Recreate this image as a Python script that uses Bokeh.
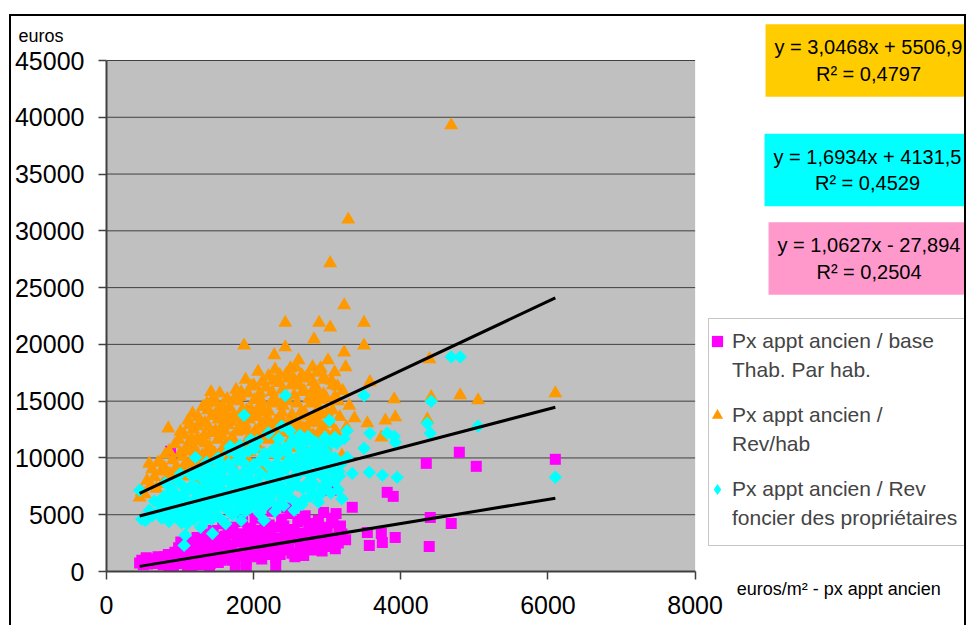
import math
from bokeh.plotting import figure
from bokeh.models import (Range1d, FixedTicker, Label, Legend, LegendItem, LinearAxis,
                          BoxAnnotation)
from bokeh.embed import file_html
from bokeh.resources import INLINE

# ---------------- data ----------------
x_ticks = [0, 2000, 4000, 6000, 8000]
y_ticks = [0, 5000, 10000, 15000, 20000, 25000, 30000, 35000, 40000, 45000]

series_names = ["Px appt ancien / base\nThab. Par hab.",
                "Px appt ancien /\nRev/hab",
                "Px appt ancien / Rev\nfoncier des propriétaires"]
x_title = "euros/m² - px appt ancien"
y_title = "euros"

# Px appt ancien / base Thab. par hab. (magenta squares)
mag_x = [450, 480, 520, 560, 600, 640, 680, 720, 750, 790, 820, 850, 880, 900, 930, 950, 980, 1000,
         1020, 1050, 1080, 1100, 1120, 1150, 1180, 1200, 1230, 1250, 1280, 1300, 1330, 1350, 1380,
         1400, 1420, 1450, 1480, 1500, 1520, 1550, 1580, 1600, 1620, 1650, 1680, 1700, 1720, 1750,
         1780, 1800, 1820, 1850, 1880, 1900, 1920, 1950, 1980, 2000, 2020, 2050, 2080, 2100, 2130,
         2150, 2180, 2200, 2230, 2250, 2280, 2300, 2330, 2350, 2380, 2400, 2430, 2450, 2480, 2500,
         2520, 2550, 2580, 2600, 2630, 2650, 2680, 2700, 2730, 2750, 2780, 2800, 2830, 2850, 2880,
         2900, 2930, 2950, 2980, 3000, 3030, 3050, 3080, 3100, 3120, 3150, 3180, 3200, 3250, 3340,
         3545, 3572, 3735, 3749, 3815, 3897, 3924, 4346, 4386, 4400, 4685, 4795, 5025, 6100, 870,
         500, 540, 620, 700, 770, 840, 910, 960, 1010, 1060, 1110, 1160, 1210, 1260, 1310, 1360,
         1410, 1460, 1510, 1560, 1610, 1660, 1710, 1760, 1810, 1860, 1910, 1960, 2010, 2060, 2110,
         2160, 2210, 2260, 2310, 2360, 2410, 2460, 2510, 2560, 2610, 2660, 2710, 2760, 2810, 2860,
         2910, 2960, 3010, 3060, 3110, 3160, 1400, 1900, 2300]
mag_y = [750, 1000, 900, 650, 700, 1100, 1000, 700, 800, 1300, 1100, 500, 600, 1300, 1700, 900, 2100, 1500,
         700, 1200, 1100, 400, 1800, 2600, 1300, 800, 3000, 2000, 1500, 600, 2400, 3300, 1100,
         1900, 2800, 3600, 1400, 2300, 800, 3000, 4200, 1700, 2600, 3400, 1200, 2100, 3900, 500,
         2800, 1600, 3300, 4400, 2200, 1000, 3700, 2600, 1800, 3100, 4700, 1300, 2400, 3600, 2000,
         4200, 2800, 1500, 3300, 5300, 2300, 1200, 3900, 2700, 4600, 1900, 3200, 5600, 2400, 5100,
         1600, 3700, 2900, 4400, 2100, 3400, 1400, 4900, 2600, 4230, 3100, 1900, 3800, 2400, 4500,
         3000, 1800, 5200, 2700, 3600, 2200, 7140, 4300, 3000, 5100, 2500, 4000, 3300, 2800, 5650,
         3440, 2290, 3350, 2560, 6970, 6615, 3000, 9525, 2200, 4760, 4230, 10500, 9260, 9880, 10600,
         600, 1200, 850, 1300, 600, 1500, 500, 1200, 2600, 800, 1400, 500, 2100, 900, 1800, 2200,
         700, 2600, 1600, 1000, 3100, 2300, 1000, 3300, 2600, 1400, 2900, 3800, 1500, 3300, 1100,
         2500, 4100, 1700, 2900, 1500, 4000, 2000, 3300, 1300, 3100, 4600, 2000, 3500, 2900, 4100,
         2200, 3900, 2900, 4700, 2000, 3700, 350, 400, 500]

# Px appt ancien / Rev/hab (orange triangles)
ora_x = [450, 480, 520, 580, 600, 650, 700, 730, 760, 800, 840, 860, 900, 930, 960, 1000, 1030, 1060,
         1110, 1120, 1150, 1180, 1200, 1230, 1260, 1280, 1300, 1330, 1350, 1380, 1400, 1420, 1440,
         1460, 1480, 1500, 1520, 1540, 1560, 1580, 1600, 1620, 1650, 1670, 1690, 1710, 1730, 1750,
         1770, 1790, 1830, 1850, 1870, 1880, 1900, 1920, 1940, 1960, 1980, 2000, 2020, 2050, 2070,
         2100, 2120, 2150, 2180, 2200, 2230, 2250, 2280, 2300, 2320, 2350, 2380, 2400, 2430, 2430,
         2450, 2470, 2500, 2520, 2550, 2570, 2600, 2620, 2650, 2680, 2700, 2720, 2750, 2780, 2800,
         2820, 2830, 2850, 2870, 2890, 2910, 2930, 2950, 2980, 3000, 3040, 3040, 3060, 3100, 3120,
         3150, 3200, 3230, 3230, 3250, 3286, 3300, 3370, 3500, 3500, 3545, 3580, 3735, 3790, 3910,
         3925, 4360, 4390, 4413, 4685, 4807, 5050, 6100,
         920, 980, 1040, 1090, 1140, 1170, 1210, 1240, 1270, 1310, 1340, 1370, 1390, 1430, 1470,
         1510, 1530, 1570, 1610, 1640, 1660, 1700, 1740, 1760, 1800, 1820, 1840, 1890, 1910, 1950,
         1990, 2010, 2040, 2060, 2090, 2110, 2140, 2170, 2190, 2210, 2240, 2270, 2290, 2310, 2340,
         2360, 2390, 2420, 2460, 2490, 2510, 2540, 2560, 2590, 2610, 2640, 2660, 2690, 2710, 2740,
         2760, 2790, 2810, 2840, 2860, 2880, 2920, 2940, 2970, 2990, 3010, 3070, 3090, 3140, 3170,
         3210, 3260,
         1005, 1065, 1125, 1185, 1245, 1305, 1365, 1425, 1485, 1545, 1605, 1665, 1725, 1785, 1845,
         1905, 1965, 2025, 2085, 2145, 2205, 2265, 2325, 2385, 2445, 2505, 2565, 2625, 2685, 2745,
         2805, 2865, 2925, 2985, 3045, 3105,
         1035, 1095, 1155, 1215, 1275, 1335, 1395, 1455, 1515, 1575, 1635, 1695, 1755, 1815, 1875,
         1935, 1995, 2055, 2115, 2175, 2235, 2295, 2355, 2415, 2475, 2535, 2595, 2655, 2715, 2775,
         2835, 2895, 2955, 3015, 3075,
         550, 620, 680, 740, 790, 850, 950]
ora_y = [6530, 7000, 6800, 9500, 7600, 8300, 9600, 9600, 7700, 10300, 12600, 8600, 9800, 11200, 7900, 10400, 9000, 12000,
         13300, 8400, 10800, 12500, 9400, 11700, 7800, 13100, 10200, 12000, 8900, 14200, 11000, 15800, 9700,
         14900, 12400, 8300, 13400, 15700, 10600, 11900, 14000, 9300, 12900, 14460, 10900, 11800, 13800, 8800,
         12300, 15000, 15800, 10300, 19900, 13000, 11400, 15700, 9600, 14300, 12000, 16400, 10800, 13600, 11700,
         15100, 9000, 14000, 12600, 17200, 10300, 15800, 19050, 13200, 11000, 16600, 12200, 14600, 21900, 19750,
         10200, 17000, 17900, 13800, 15500, 18000, 11400, 16400, 14100, 12600, 17000, 10500, 15200, 13300, 18000,
         20450, 11800, 16200, 14300, 21900, 17900, 12700, 15600, 10900, 14000, 27150, 21500, 16800, 17550, 12300,
         15000, 10200, 23450, 19300, 18000, 31000, 14600, 13490, 21900, 19900, 13050, 16670, 11800, 13300, 15170,
         13580, 13400, 18700, 15350, 39300, 15520, 15080, 15700,
         8600, 11600, 10100, 11000, 9600, 13900, 10500, 12800, 9000, 14500, 11300, 10000, 12700, 13700, 10400,
         11600, 14300, 12800, 11000, 15200, 10000, 13200, 11200, 16000, 12600, 9900, 14200, 16900, 12400, 10500,
         13900, 15100, 11200, 17600, 12800, 14500, 10400, 16200, 13400, 11600, 14900, 12100, 17800, 14800, 10800,
         13600, 16000, 12900, 15000, 11600, 16400, 13000, 10900, 14800, 18600, 12300, 15800, 14000, 11900, 17300,
         13100, 15800, 12000, 14900, 17500, 13100, 15100, 11200, 16900, 13000, 18600, 14200, 12200, 16300, 13600,
         15900, 12700,
         12300, 9400, 12900, 11000, 13600, 9800, 14800, 12200, 13900, 9900, 12400, 13500, 15100, 10700, 12800,
         14200, 16300, 12400, 15700, 13100, 14100, 16800, 12600, 14000, 17400, 13300, 16600, 12900, 15900, 12300,
         16700, 15600, 13800, 15300, 13000, 15400,
         8400, 10600, 11700, 8800, 11500, 13100, 10700, 15300, 10200, 14600, 13600, 11600, 13500, 15400, 11100,
         13400, 11500, 14300, 16700, 11900, 13000, 15100, 17300, 15300, 12800, 17100, 12200, 17300, 13700, 14800,
         13700, 12200, 17100, 11900, 16400,
         8000, 9000, 7300, 8800, 9100, 10600, 9200]

# Px appt ancien / Rev foncier des proprietaires (cyan diamonds)
cya_x = [450, 480, 530, 580, 620, 650, 700, 750, 780, 820, 850, 880, 900, 930, 960, 1000, 1020, 1055,
         1070, 1080, 1100, 1130, 1150, 1180, 1210, 1230, 1250, 1280, 1300, 1320, 1350, 1380, 1400,
         1420, 1440, 1460, 1480, 1500, 1520, 1550, 1580, 1600, 1620, 1650, 1680, 1700, 1720, 1750,
         1780, 1800, 1830, 1870, 1880, 1900, 1930, 1950, 1980, 2000, 2030, 2050, 2080, 2100, 2140,
         2150, 2180, 2200, 2230, 2250, 2280, 2300, 2330, 2350, 2380, 2400, 2430, 2450, 2480, 2500,
         2530, 2550, 2580, 2600, 2630, 2650, 2680, 2700, 2730, 2750, 2780, 2800, 2830, 2850, 2880,
         2900, 2930, 2950, 2980, 3000, 3030, 3050, 3080, 3100, 3130, 3160, 3200, 3230, 3270, 3270,
         3340, 3500, 3500, 3570, 3580, 3750, 3815, 3910, 3925, 3950, 4360, 4400, 4413, 4685, 4807,
         5050, 6100,
         800, 870, 940, 990, 1010, 1040, 1090, 1120, 1160, 1190, 1220, 1260, 1290, 1310, 1340,
         1360, 1390, 1410, 1430, 1470, 1490, 1510, 1530, 1560, 1590, 1610, 1630, 1660, 1690, 1710,
         1740, 1760, 1790, 1810, 1840, 1860, 1890, 1910, 1940, 1960, 1990, 2010, 2040, 2060, 2090,
         2110, 2160, 2190, 2210, 2240, 2260, 2290, 2310, 2340, 2360, 2390, 2410, 2440, 2470, 2490,
         2510, 2540, 2570, 2590, 2620, 2640, 2670, 2690, 2720, 2740, 2770, 2790, 2820, 2840, 2870,
         2890, 2920, 2940, 2970, 2990, 3020, 3060, 3090, 3110, 3150, 3190,
         705, 765, 825, 885, 945, 1005, 1065, 1125, 1185, 1245, 1305, 1365, 1425, 1485, 1545,
         1605, 1665, 1725, 1785, 1845, 1905, 1965, 2025, 2085, 2145, 2205, 2265, 2325, 2385, 2445,
         2505, 2565, 2625, 2685, 2745, 2805, 2865, 2925, 2985, 3045, 3105, 3165,
         735, 855, 975, 1095, 1215, 1335, 1455, 1575, 1695, 1815, 1935, 2055, 2175, 2295, 2415,
         2535, 2655, 2775, 2895, 3015]
cya_y = [7150, 4600, 4500, 5380, 4900, 6200, 5200, 4700, 6600, 5600, 4400, 7300, 6000, 5000, 8000, 6500, 4300, 2300,
         3200, 7000, 5500, 8600, 4800, 6200, 10050, 7400, 5200, 3900, 8200, 6400, 4500, 9200, 7100,
         5700, 3350, 8600, 6700, 4900, 10000, 7800, 5800, 9000, 4200, 7000, 11000, 6100, 8400, 5200,
         9800, 7300, 4500, 13760, 8800, 6400, 10600, 5600, 7900, 9400, 6800, 11500, 5100, 8500, 4500,
         10200, 7400, 12200, 6200, 9000, 7900, 10900, 5700, 8600, 12800, 7100, 15500, 9600, 6600, 11200,
         8200, 5400, 10000, 7600, 12000, 8900, 6300, 10500, 7800, 9400, 11600, 7000, 8600, 10100, 6100,
         9200, 11000, 7500, 8300, 10400, 13300, 6900, 9700, 7900, 11300, 8800, 6400, 11700, 12400, 10050,
         8640, 15500, 10850, 8730, 12170, 8470, 12170, 11900, 11380, 8290, 13050, 12170, 15000, 18900, 18900,
         12800, 8300,
         7800, 5200, 6800, 5600, 7700, 4900, 6300, 5100, 7600, 4600, 6900, 8800, 5800, 4700, 7500,
         9600, 5900, 8200, 4600, 7400, 5500, 8900, 6400, 4600, 7000, 8100, 5500, 9500, 7800, 5000,
         6800, 10400, 8200, 5900, 7600, 9600, 5300, 8000, 7000, 11600, 6000, 10800, 8000, 6200, 9800,
         7000, 5800, 9400, 8300, 10600, 6900, 5300, 9500, 11700, 7600, 9000, 5800, 10600, 8100, 12400,
         7400, 9300, 6100, 11300, 8600, 10800, 7300, 9800, 8800, 11900, 6600, 9900, 7700, 11400, 8800,
         10200, 7100, 9600, 11800, 7600, 9200, 11300, 8800, 10000, 7200, 9500,
         6100, 5400, 6700, 6300, 4800, 8600, 6000, 7300, 8400, 6100, 7000, 5300, 7900, 9800, 8200,
         6300, 10600, 8900, 6500, 10300, 6800, 9000, 7400, 8700, 10400, 6400, 8100, 10200, 6500, 9100,
         10000, 8400, 9900, 11200, 7600, 10700, 9600, 8500, 9300, 10000, 11800, 8400,
         4900, 6000, 5900, 4200, 5600, 8300, 6200, 9300, 9000, 11100, 8700, 5600, 6600, 7200, 10900,
         11600, 5900, 8500, 6700, 7900]

# linear trend lines shown on the chart (slope, intercept) and their texts
mag_fit = (1.0627, -27.894)
ora_fit = (3.0468, 5506.9)
cya_fit = (1.6934, 4131.5)
eq_texts = ["y = 3,0468x + 5506,9\nR² = 0,4797",
            "y = 1,6934x + 4131,5\nR² = 0,4529",
            "y = 1,0627x - 27,894\nR² = 0,2504"]

# ---------------- layout (pixels) ----------------
FONT = "Liberation Sans"
MAG, ORA, CYA = "#FF00FF", "#FF9900", "#00FFFF"
GRID = "#404040"

PLOT_W, PLOT_H = 590, 511          # grey plotting area
FRAME_W, FRAME_H = 864, 555        # frame also covers the white area right of / above it
X_END = x_ticks[-1] * FRAME_W / PLOT_W
Y_END = y_ticks[-1] * FRAME_H / PLOT_H

p = figure(width=957, height=611, output_backend="svg", toolbar_location=None,
           x_range=Range1d(0, X_END), y_range=Range1d(0, Y_END),
           min_border_left=93, min_border_right=0, min_border_top=0, min_border_bottom=56)
p.styles = {"border-top": "2px solid black", "border-left": "2px solid black",
            "border-right": "2px solid black", "margin-top": "14px", "margin-left": "9px"}
p.background_fill_color = "white"
p.border_fill_color = "white"
p.outline_line_color = None
p.xgrid.visible = False
p.ygrid.visible = False

ax_x, ax_y = p.xaxis[0], p.yaxis[0]
ax_x.ticker = FixedTicker(ticks=x_ticks)
ax_y.ticker = FixedTicker(ticks=y_ticks)
ax_x.bounds = (x_ticks[0], x_ticks[-1])
ax_y.bounds = (y_ticks[0], y_ticks[-1])
for ax in (ax_x, ax_y):
    ax.axis_line_color = GRID
    ax.axis_line_width = 2
    ax.major_tick_line_color = GRID
    ax.major_tick_line_width = 1.5
    ax.major_tick_in = 0
    ax.major_tick_out = 8
    ax.minor_tick_line_color = None
    ax.major_label_text_font = FONT
    ax.major_label_text_font_size = "25px"
    ax.major_label_text_color = "black"
ax_y.major_label_standoff = 14
ax_x.major_label_standoff = 16

# axis titles, written like the chart: beside the last x tick label and above the y axis
x_title_at = round(x_ticks[-1] * (838 - 104) / PLOT_W)
y_title_at = round(y_ticks[-1] * (571 - 16.5) / PLOT_H)
ax_xt = LinearAxis(ticker=FixedTicker(ticks=[x_title_at]), major_label_overrides={x_title_at: x_title})
ax_yt = LinearAxis(ticker=FixedTicker(ticks=[y_title_at]), major_label_overrides={y_title_at: y_title})
for ax in (ax_xt, ax_yt):
    ax.axis_line_color = None
    ax.major_tick_line_color = None
    ax.minor_tick_line_color = None
    ax.major_tick_in = 0
    ax.major_tick_out = 0
    ax.major_label_text_font = FONT
    ax.major_label_text_font_size = "18px"
    ax.major_label_text_color = "black"
ax_xt.major_label_standoff = -38
ax_yt.major_label_standoff = -52
p.add_layout(ax_xt, "below")
p.add_layout(ax_yt, "left")

# grey plotting area and horizontal grid lines
p.quad(left=[x_ticks[0]], right=[x_ticks[-1]], bottom=[y_ticks[0]], top=[y_ticks[-1]],
       fill_color="#C0C0C0", line_color=None)
p.segment(x0=[x_ticks[0]] * (len(y_ticks) - 1), x1=[x_ticks[-1]] * (len(y_ticks) - 1),
          y0=y_ticks[1:], y1=y_ticks[1:], line_color=GRID, line_width=1)

r_mag = p.scatter(mag_x, mag_y, marker="square", size=11, fill_color=MAG, line_color=None)
r_ora = p.scatter(ora_x, ora_y, marker="triangle", size=14, fill_color=ORA, line_color=None)
r_cya = p.scatter(cya_x, cya_y, marker="square", angle=math.pi / 4, size=9.5,
                  fill_color=CYA, line_color=None)
# legend swatch for the cyan series (Bokeh legends do not rotate markers): same data, not drawn
r_cya_key = p.scatter(cya_x, cya_y, marker="diamond", fill_color=CYA, line_color=None,
                      visible=False)

for xs, (a, b) in ((ora_x, ora_fit), (cya_x, cya_fit), (mag_x, mag_fit)):
    lx = [min(xs), max(xs)]
    p.line(lx, [a * v + b for v in lx], line_color="black", line_width=3)

# legend: a framed box, first lines with the markers, second lines below them
p.add_layout(BoxAnnotation(left=602, right=865, bottom=26, top=253,
                           left_units="screen", right_units="screen",
                           bottom_units="screen", top_units="screen",
                           fill_color="white", fill_alpha=1.0,
                           line_color=GRID, line_width=1))
first_lines = [s.split("\n")[0] for s in series_names]
second_lines = [s.split("\n")[1] for s in series_names]
leg_style = dict(orientation="vertical", label_text_font=FONT, label_text_font_size="21px",
                 glyph_width=28, glyph_height=28, label_height=24, label_standoff=1,
                 padding=2, spacing=46, margin=0, border_line_color=None,
                 background_fill_alpha=0.0, inactive_fill_alpha=0.0)
leg_a = Legend(items=[LegendItem(label=t, renderers=[r])
                      for t, r in zip(first_lines, (r_mag, r_ora, r_cya_key))],
               location=(597, 68), **leg_style)
leg_b = Legend(items=[LegendItem(label=t, renderers=[]) for t in second_lines],
               location=(597, 39), **leg_style)
p.add_layout(leg_a)
p.add_layout(leg_b)

box_cols = ["#FFCC00", CYA, "#FF99CC"]
box_pos = [(762, 511), (761, 401.5), (762.5, 313)]
for txt, col, (bx, by) in zip(eq_texts, box_cols, box_pos):
    p.add_layout(Label(x=bx, y=by, x_units="screen", y_units="screen", text=txt,
                       text_align="center", text_baseline="middle", text_font=FONT,
                       text_font_size="20px", text_color="black",
                       background_fill_color=col, background_fill_alpha=1.0,
                       padding=dict(left=9, right=9, top=12, bottom=12)))

open("out.html", "w").write(file_html(p, INLINE))
